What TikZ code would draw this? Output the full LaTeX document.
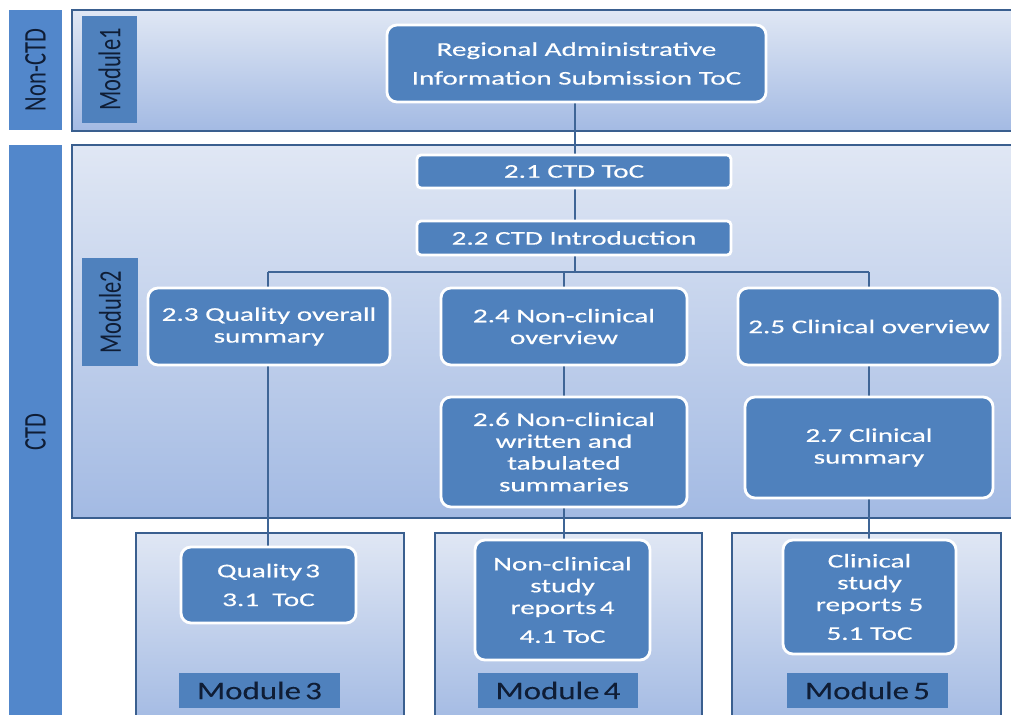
\documentclass[tikz,border=0pt]{standalone}
\usepackage{fontspec}
\setmainfont{Carlito}
\newfontfamily\boxfont[FakeStretch=1.5,FakeBold=0.4]{Carlito}
\newfontfamily\modfont[FakeStretch=1.3,FakeBold=0.1]{Carlito}
\usetikzlibrary{positioning}
\definecolor{boxblue}{HTML}{4F81BD}
\definecolor{barblue}{HTML}{5287CB}
\definecolor{panelline}{HTML}{3A5F8F}
\definecolor{conn}{HTML}{3F6596}
\definecolor{paneltop}{HTML}{E0E7F4}
\definecolor{panelbot}{HTML}{A3BAE3}
\definecolor{labtext}{HTML}{0F1D35}
\tikzset{
  panel/.style={draw=panelline, line width=1.8pt, top color=paneltop, bottom color=panelbot},
  bluebox/.style={draw=white, line width=2pt, fill=boxblue, rounded corners=0.25cm,
    text=white, align=center, inner sep=0pt, font=\boxfont\fontsize{13.8}{15.5}\selectfont},
  sidebar/.style={fill=barblue, rotate=90, inner sep=0pt, text=labtext,
    font=\fontsize{16}{18}\selectfont},
  modlabel/.style={fill=boxblue, inner sep=0pt, text=labtext,
    font=\modfont\fontsize{18}{20}\selectfont},
  link/.style={draw=conn, line width=2pt}
}
\begin{document}
\begin{tikzpicture}[x=0.025cm, y=-0.025cm]
\useasboundingbox (0,0) rectangle (1011,715);
\clip (0,0) rectangle (1011,715);
% panels
\path[panel] (72,10) rectangle (1025,131);
\path[panel] (72,145) rectangle (1025,518);
\path[panel] (136,533) rectangle (404,725);
\path[panel] (435,533) rectangle (702,725);
\path[panel] (732,533) rectangle (1001,725);
% side bars and module labels
\node[sidebar, minimum width=3cm, minimum height=1.325cm] (nonctd) at (35.5,70) {\scalebox{1}[1.4]{Non-CTD}};
\node[sidebar, minimum width=14.375cm, minimum height=1.325cm] (ctd) at (35.5,432.5) {\scalebox{1}[1.4]{CTD}};
\node[sidebar, fill=boxblue, minimum width=2.675cm, minimum height=1.375cm] (m1) at (109.5,69.5) {\scalebox{1}[1.4]{Module1}};
\node[sidebar, fill=boxblue, minimum width=2.7cm, minimum height=1.4cm] (m2) at (110,312) {\scalebox{1}[1.4]{Module2}};
\node[modlabel, minimum width=4.025cm, minimum height=0.875cm] (m3) at (259.5,690.5) {Module\,3};
\node[modlabel, minimum width=4cm, minimum height=0.875cm] (m4) at (558,690.5) {Module\,4};
\node[modlabel, minimum width=4.025cm, minimum height=0.875cm] (m5) at (867.5,690.5) {Module\,5};
% coordinates for connectors
\coordinate (bus) at (574,272);
\coordinate (regbot) at (575,102);
\coordinate (tocpt) at (575,171.5);
\coordinate (intropt) at (575,238);
\coordinate (qx) at (268,326.5);
\coordinate (ncx) at (564,326.5);
\coordinate (cx) at (869,326.5);
% connectors (drawn before boxes)
\draw[link] (regbot) -- (tocpt) -- (intropt) -- (intropt |- bus);
\draw[link] (qx |- bus) -- (cx |- bus);
\draw[link] (qx |- bus) -- (qx) -- (268,585);
\draw[link] (ncx |- bus) -- (ncx) -- (564,452) -- (564,600);
\draw[link] (cx |- bus) -- (cx) -- (869,447.5) -- (869,597);
% boxes
\node[bluebox, minimum width=9.475cm, minimum height=1.925cm] (reg) at (576.5,63.5) {Regional Administrative\\[5pt]Information Submission ToC};
\node[bluebox, rounded corners=0.1cm, minimum width=7.85cm, minimum height=0.825cm] (toc) at (574,171.5) {2.1 CTD ToC};
\node[bluebox, rounded corners=0.1cm, minimum width=7.85cm, minimum height=0.85cm] (intro) at (574,238) {2.2 CTD Introduction};
\node[bluebox, minimum width=6.05cm, minimum height=1.925cm] (q) at (269,326.5) {2.3 Quality overall\\summary};
\node[bluebox, minimum width=6.15cm, minimum height=1.925cm] (nco) at (564,326.5) {2.4 Non-clinical\\overview};
\node[bluebox, minimum width=6.55cm, minimum height=1.925cm] (co) at (869,326.5) {2.5 Clinical overview};
\node[bluebox, minimum width=6.15cm, minimum height=2.75cm] (ncw) at (564,452) {2.6 Non-clinical\\written and\\tabulated\\summaries};
\node[bluebox, minimum width=6.2cm, minimum height=2.525cm] (cs) at (869,447.5) {2.7 Clinical\\summary};
\node[bluebox, minimum width=4.375cm, minimum height=1.9cm] (q3) at (268.5,585) {Quality\,3\\[5pt]3.1\ \ ToC};
\node[bluebox, minimum width=4.375cm, minimum height=3.0cm] (nc4) at (562.5,600) {Non-clinical\\study\\reports\,4\\[5pt]4.1 ToC};
\node[bluebox, minimum width=4.325cm, minimum height=2.85cm] (c5) at (869.5,597) {Clinical\\study\\reports 5\\[5pt]5.1 ToC};
\end{tikzpicture}
\end{document}
